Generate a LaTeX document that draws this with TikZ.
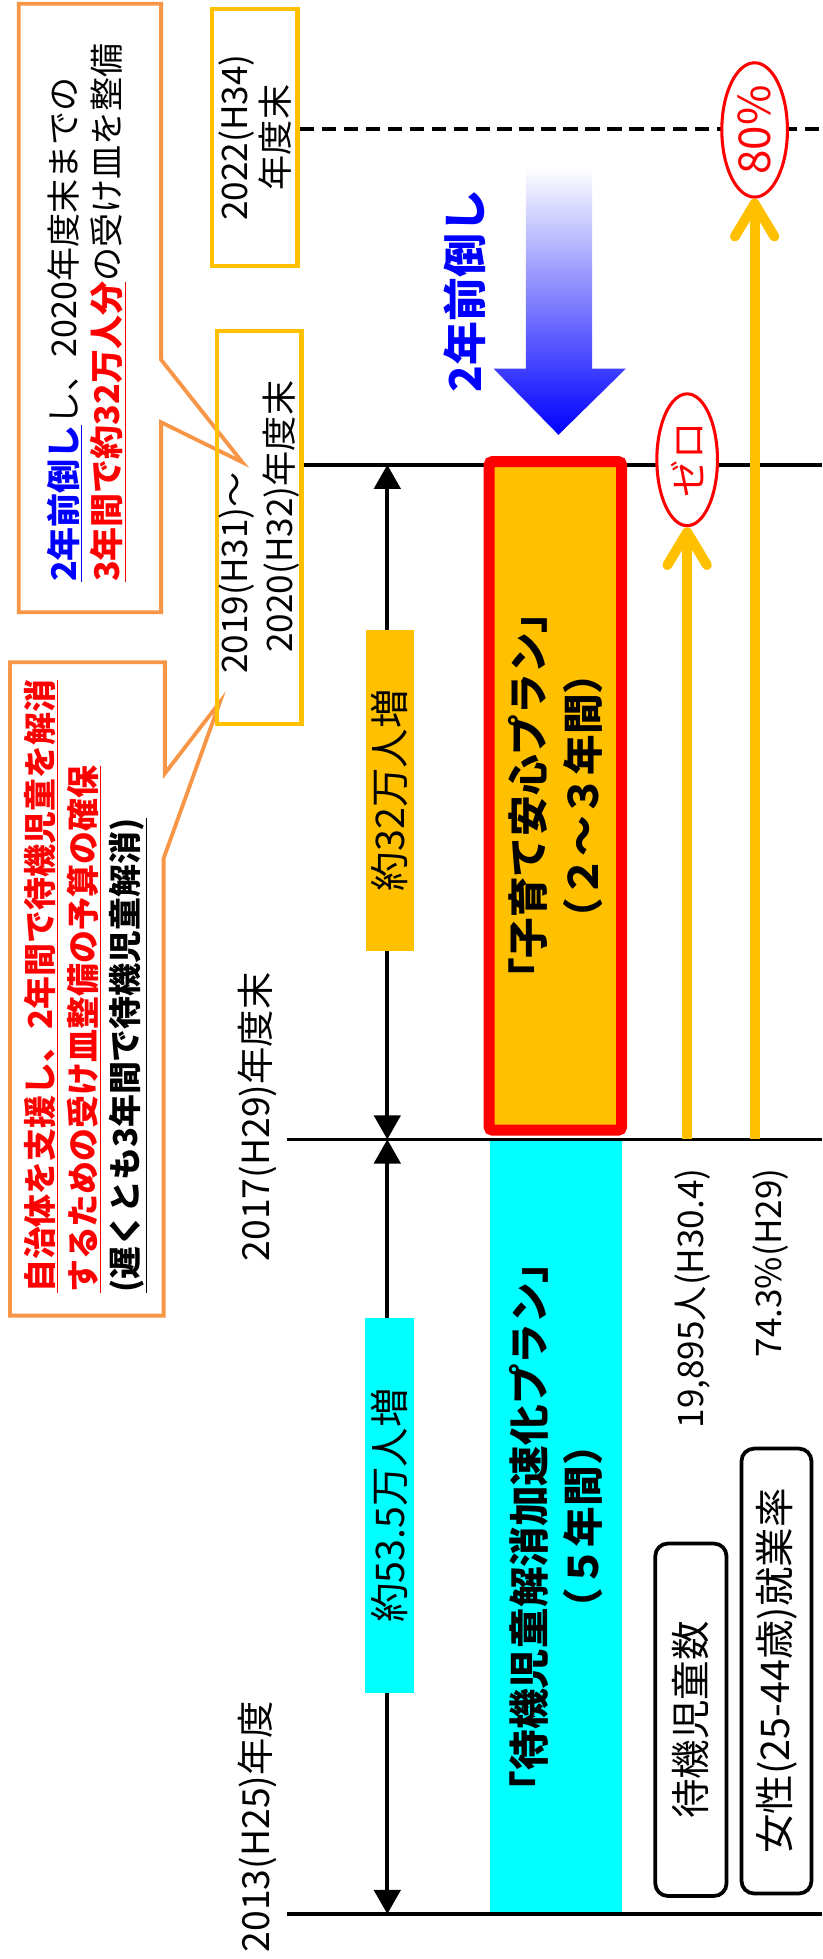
\documentclass[tikz,border=0pt]{standalone}
\usepackage{fontspec}
\setmainfont{Noto Sans CJK JP}
\usetikzlibrary{arrows.meta,shapes.geometric}
\definecolor{kigold}{HTML}{FFC000}
\definecolor{coorange}{HTML}{F79646}
\definecolor{midblue}{RGB}{140,200,222}
\definecolor{aqua}{RGB}{0,255,255}
\tikzset{
  vt/.style={rotate=90,inner sep=0pt},
  yearbox/.style={vt,draw=kigold,line width=4pt,fill=none},
  callout/.style={draw=coorange,fill=white,line width=3.5pt},
  yearline/.style={line width=3.5pt},
  gapspan/.style={yearline,{Triangle[width=24pt,length=22pt]}-{Triangle[width=24pt,length=22pt]}},
  rise/.style={draw=kigold,line width=9pt,-{Straight Barb[round,length=30pt,width=36pt]}},
  goal/.style={vt,ellipse,draw=red,fill=white,line width=2.8pt,text=red},
  legend/.style={vt,draw,rounded corners=4mm,line width=3.4pt},
}

\begin{document}
\begin{tikzpicture}[x=0.04cm,y=-0.04cm]
\useasboundingbox (0,0) rectangle (658,1568);

\draw[callout] (15,3) -- (129,3) -- (129,288) -- (194,370) -- (129,338) -- (129,490) -- (15,490) -- cycle;
\draw[callout] (8,530) -- (132,530) -- (132,619) -- (176,562) -- (131,687) -- (131,1053) -- (8,1053) -- cycle;

\node[vt,anchor=north west,align=left,font=\fontsize{31}{39}\selectfont] (note1) at (38,466)
  {{\color{blue}\underline{\bfseries 2年前倒し}}し、2020年度末までの\\{\color{red}\underline{\bfseries 3年間で約32万人分}}の受け皿を整備};
\node[vt,anchor=north west,align=left,font=\bfseries\fontsize{30}{39}\selectfont] (note2) at (19,1035)
  {{\color{red}\underline{自治体を支援し、2年間で待機児童を解消}}\\{\color{red}\underline{するための受け皿整備の予算の確保}}\\\underline{(遅くとも3年間で待機児童解消)}};

\node[yearbox,minimum width=8.22cm,minimum height=2.74cm,align=center,font=\fontsize{32}{37}\selectfont] (yr2022) at (204,110) {2022(H34)\\年度末};
\node[yearbox,minimum width=12.58cm,minimum height=2.7cm,align=left,font=\fontsize{32}{41}\selectfont] (yr2019) at (207.5,422) {2019(H31)～\\\hspace*{0.6em}2020(H32)年度末};
\node[vt,font=\fontsize{34}{40}\selectfont] (yr2017) at (206,894) {2017(H29)年度末};
\node[vt,font=\fontsize{34}{40}\selectfont] (yr2013) at (206,1462) {2013(H25)年度};

\node[vt,fill=aqua,minimum width=24.8cm,minimum height=4.24cm,align=center,font=\bfseries\fontsize{37}{49}\selectfont] (planOld) at (445,1222) {「待機児童解消加速化プラン」\\（５年間）};

\coordinate (e2022) at (658,103);
\coordinate (e2020) at (658,372);
\coordinate (s2017) at (230,912);
\coordinate (e2017) at (658,912);
\coordinate (s2013) at (230,1532);
\coordinate (e2013) at (658,1532);
\draw[yearline,dash pattern=on 13pt off 7pt] (yr2022.south |- e2022) -- (e2022);
\draw[yearline] (yr2019.south |- e2020) -- (e2020);
\draw[yearline] (s2017) -- (e2017);
\draw[yearline] (s2013) -- (e2013);

\coordinate (t2020) at (310,372);
\coordinate (t2017) at (310,912);
\coordinate (t2013) at (310,1532);
\draw[gapspan] (t2020) -- (t2017);
\draw[gapspan] (t2017) -- (t2013);
\node[vt,fill=kigold,minimum width=10.28cm,minimum height=1.52cm,font=\fontsize{36}{40}\selectfont] (inc32) at (312,632.5) {約32万人増};
\node[vt,fill=aqua,minimum width=12cm,minimum height=1.56cm,font=\fontsize{36}{40}\selectfont] (inc535) at (311.5,1205) {約53.5万人増};

\node[vt,fill=kigold,draw=red,line width=10pt,rounded corners=3pt,minimum width=21.4cm,minimum height=4.24cm,align=center,font=\bfseries\fontsize{37}{50}\selectfont] (planNew) at (444.5,637) {「子育て安心プラン」\\（２～３年間）};

\shade[top color=white,middle color=midblue,bottom color=blue] (421,134) -- (474,134) -- (474,295) -- (501,295) -- (447,348) -- (395,295) -- (421,295) -- cycle;
\node[vt,text=blue,font=\bfseries\fontsize{40}{48}\selectfont] (shiftlbl) at (372,233) {2年前倒し};

\node[goal,minimum width=4.22cm,minimum height=1.94cm,font=\fontsize{34}{38}\selectfont] (zero) at (550,368) {ゼロ};
\node[goal,minimum width=4.3cm,minimum height=2.1cm,font=\fontsize{40}{44}\selectfont] (eighty) at (604,104) {80\%};
\coordinate (r1) at (550,912);
\coordinate (r2) at (604,912);
\draw[rise] (r1) -- (zero.west);
\draw[rise] (r2) -- (eighty.west);

\node[vt,anchor=east,font=\fontsize{32}{36}\selectfont] (wait19895) at (554,935) {19,895人(H30.4)};
\node[vt,anchor=east,font=\fontsize{32}{36}\selectfont] (rate743) at (617,935) {74.3\%(H29)};

\node[legend,minimum width=11.28cm,minimum height=2.28cm,font=\fontsize{36}{40}\selectfont] (lblwait) at (553,1376.5) {待機児童数};
\node[legend,minimum width=14.24cm,minimum height=2.24cm,font=\fontsize{36}{40}\selectfont] (lblrate) at (621.5,1337.5) {女性(25-44歳)就業率};
\end{tikzpicture}
\end{document}
